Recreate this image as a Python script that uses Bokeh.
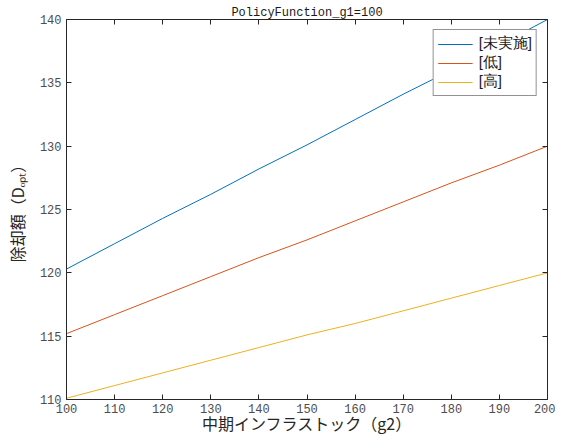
from bokeh.plotting import figure
from bokeh.models import Range1d, LinearAxis, FixedTicker, Legend, LegendItem
from bokeh.embed import file_html
from bokeh.resources import INLINE

g2 = [100, 110, 120, 130, 140, 150, 160, 170, 180, 190, 200]
d_none = [120.3, 122.3, 124.3, 126.2, 128.2, 130.1, 132.1, 134.1, 136.0, 138.0, 140.0]
d_low = [115.2, 116.7, 118.2, 119.7, 121.2, 122.6, 124.1, 125.6, 127.1, 128.5, 130.0]
d_high = [110.1, 111.1, 112.1, 113.1, 114.1, 115.1, 116.0, 117.0, 118.0, 119.0, 120.0]
series_names = ["[未実施]", "[低]", "[高]"]
colors = ["#0072BD", "#D95319", "#EDB120"]
x_ticks = [100, 110, 120, 130, 140, 150, 160, 170, 180, 190, 200]
y_ticks = [110, 115, 120, 125, 130, 135, 140]

AX = "#262626"
MONO = "Liberation Mono"
CJK = "Noto Sans CJK JP"

p = figure(output_backend="svg", toolbar_location=None,
           frame_width=481, frame_height=380,
           min_border_left=66, min_border_right=8, min_border_top=19, min_border_bottom=20,
           x_range=Range1d(100, 200), y_range=Range1d(110, 140),
           title="PolicyFunction_g1=100")
p.title.text_font = MONO
p.title.text_font_size = "12px"
p.title.text_font_style = "normal"
p.title.text_color = "#1a1a1a"
p.title.align = "center"
p.title.standoff = 0
p.grid.visible = False
p.outline_line_color = None
p.background_fill_color = "white"

for ax in (p.xaxis[0], p.yaxis[0]):
    ax.major_tick_in = 5
    ax.major_tick_out = 0
    ax.minor_tick_in = 0
    ax.minor_tick_out = 0
    ax.axis_line_color = AX
    ax.major_tick_line_color = AX
    ax.major_label_text_font = MONO
    ax.major_label_text_font_size = "12px"
    ax.major_label_text_color = "#4d4d4d"
    ax.axis_label_text_font = CJK
    ax.axis_label_text_font_size = "16px"
    ax.axis_label_text_font_style = "normal"
    ax.axis_label_text_color = AX

p.xaxis[0].ticker = FixedTicker(ticks=x_ticks)
p.yaxis[0].ticker = FixedTicker(ticks=y_ticks)
p.xaxis[0].major_label_standoff = 4
p.yaxis[0].major_label_standoff = 5
p.xaxis[0].axis_label = "中期インフラストック（g2）"
p.yaxis[0].axis_label = "除却額（Dₒₚₜ）"
p.xaxis[0].axis_label_standoff = -5
p.yaxis[0].axis_label_standoff = 8

top = LinearAxis(ticker=FixedTicker(ticks=x_ticks),
                 major_label_overrides={t: "" for t in x_ticks})
right = LinearAxis(ticker=FixedTicker(ticks=y_ticks),
                   major_label_overrides={t: "" for t in y_ticks})
for ax in (top, right):
    ax.major_tick_in = 5
    ax.major_tick_out = 0
    ax.minor_tick_in = 0
    ax.minor_tick_out = 0
    ax.axis_line_color = AX
    ax.major_tick_line_color = AX
    ax.major_label_standoff = 0
p.add_layout(top, "above")
p.add_layout(right, "right")

renderers = []
for ys, c in zip([d_none, d_low, d_high], colors):
    r = p.line(g2, ys, line_color=c, line_width=1)
    renderers.append(r)

legend = Legend(items=[LegendItem(label=n, renderers=[r]) for n, r in zip(series_names, renderers)],
                location="top_right", margin=10, padding=4, spacing=0,
                glyph_width=35, glyph_height=14, label_height=14, label_standoff=6,
                label_text_font="Liberation Sans", label_text_font_size="15px",
                label_text_color="#1a1a1a",
                border_line_color="#262626", border_line_width=1,
                background_fill_color="white", background_fill_alpha=1)
p.add_layout(legend, "center")

open("out.html", "w").write(file_html(p, INLINE))
